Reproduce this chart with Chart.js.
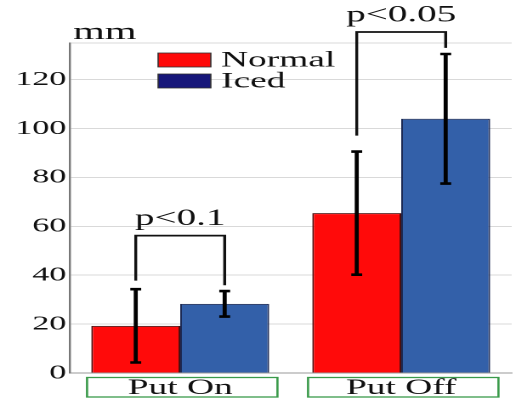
<!DOCTYPE html>
<html>
<head>
<meta charset="utf-8">
<script src="https://cdn.jsdelivr.net/npm/chart.js@4"></script>
<style>
  html, body { margin: 0; padding: 0; background: #fff; overflow: hidden; }
  /* the reference figure is stretched sideways, so the whole chart is too */
  #wrap { width: 302px; height: 400px; transform: scaleX(1.7); transform-origin: 0 0; }
</style>
</head>
<body>
<div id="wrap"><canvas id="chart"></canvas></div>
<script>
(function() {
    'use strict';

    // --- Data ---
    const categories = ['Put On', 'Put Off'];
    const seriesNames = ['Normal', 'Iced'];
    const normalMeans = [19.3, 65.4];
    const icedMeans = [28.3, 104.0];
    const normalErr = [15.0, 25.2];
    const icedErr = [5.2, 26.5];
    const yTicks = [0, 20, 40, 60, 80, 100, 120];
    const yMax = 135;

    // significance brackets: label, top of bracket, left leg end, right leg end
    const pLabels = ['p<0.1', 'p<0.05'];
    const bracketTops = [56.2, 139.5];
    const bracketLeftEnds = [37.8, 97.1];
    const bracketRightEnds = [35.9, 133.0];

    // --- Styles ---
    const serif = "'Liberation Serif', 'Times New Roman', serif";
    const redFill = '#ff0a0a';
    const blueFill = '#3360a9';
    const navyLegend = '#17177a';
    const inkColor = '#111';

    const errorBarsPlugin = {
        id: 'errorBars',
        afterDatasetsDraw(chart) {
            const ctx = chart.ctx;
            const ys = chart.scales.y;
            const errs = [normalErr, icedErr];
            const means = [normalMeans, icedMeans];
            ctx.save();
            ctx.strokeStyle = '#000';
            [0, 1].forEach(d => {
                chart.getDatasetMeta(d).data.forEach((bar, i) => {
                    const yHi = ys.getPixelForValue(means[d][i] + errs[d][i]);
                    const yLo = ys.getPixelForValue(means[d][i] - errs[d][i]);
                    ctx.lineWidth = 2.4;
                    ctx.beginPath();
                    ctx.moveTo(bar.x, yHi);
                    ctx.lineTo(bar.x, yLo);
                    ctx.stroke();
                    ctx.lineWidth = 2.6;
                    ctx.beginPath();
                    ctx.moveTo(bar.x - 3.2, yHi); ctx.lineTo(bar.x + 3.2, yHi);
                    ctx.moveTo(bar.x - 3.2, yLo); ctx.lineTo(bar.x + 3.2, yLo);
                    ctx.stroke();
                });
            });
            ctx.restore();
        },
        afterDraw(chart) {
            const ctx = chart.ctx;
            const xs = chart.scales.x;
            const ys = chart.scales.y;
            ctx.save();

            // brackets + p values
            ctx.strokeStyle = '#111';
            ctx.fillStyle = inkColor;
            ctx.font = '23px ' + serif;
            ctx.textAlign = 'center';
            ctx.textBaseline = 'alphabetic';
            categories.forEach((c, i) => {
                const xl = chart.getDatasetMeta(0).data[i].x;
                const xr = chart.getDatasetMeta(1).data[i].x;
                const yt = ys.getPixelForValue(bracketTops[i]);
                ctx.lineWidth = 1.7;
                ctx.beginPath();
                ctx.moveTo(xl, ys.getPixelForValue(bracketLeftEnds[i]));
                ctx.lineTo(xl, yt);
                ctx.lineTo(xr, yt);
                ctx.lineTo(xr, ys.getPixelForValue(bracketRightEnds[i]));
                ctx.stroke();
                ctx.fillText(pLabels[i], (xl + xr) / 2, yt - 10.5);
            });

            // green boxes around category labels
            ctx.strokeStyle = '#3a9a4a';
            ctx.lineWidth = 1.3;
            categories.forEach((c, i) => {
                const cx = xs.getPixelForValue(i) + 1.2;
                ctx.strokeRect(cx - 56, 377.5, 112, 19.5);
            });

            // unit label
            ctx.textAlign = 'left';
            ctx.font = '24px ' + serif;
            ctx.fillText('mm', 43, 39);

            // legend
            const legendFills = [redFill, navyLegend];
            ctx.font = '22px ' + serif;
            ctx.textBaseline = 'middle';
            seriesNames.forEach((name, i) => {
                const y0 = 53 + i * 21;
                ctx.fillStyle = legendFills[i];
                ctx.fillRect(93, y0, 31, 14);
                ctx.strokeStyle = '#333';
                ctx.lineWidth = 0.8;
                ctx.strokeRect(93, y0, 31, 14);
                ctx.fillStyle = inkColor;
                ctx.fillText(name, 130, y0 + 7.5);
            });
            ctx.restore();
        }
    };

    new Chart(document.getElementById('chart'), {
        type: 'bar',
        data: {
            labels: categories,
            datasets: [
                { label: seriesNames[0], data: normalMeans, backgroundColor: redFill,
                  borderColor: '#4a1010', borderWidth: 1 },
                { label: seriesNames[1], data: icedMeans, backgroundColor: blueFill,
                  borderColor: '#1c2a55', borderWidth: 1 }
            ]
        },
        options: {
            responsive: true,
            maintainAspectRatio: false,
            animation: false,
            devicePixelRatio: 2,
            layout: { padding: { top: 43, right: 1, left: 0, bottom: 0 } },
            datasets: { bar: { categoryPercentage: 0.805, barPercentage: 1.0 } },
            plugins: { legend: { display: false }, tooltip: { enabled: false } },
            scales: {
                x: {
                    offset: true,
                    grid: { display: false },
                    border: { color: '#999', width: 1 },
                    ticks: { color: inkColor, padding: -6, font: { family: serif, size: 22 } },
                    afterFit(scale) { scale.height = 27; }
                },
                y: {
                    min: 0,
                    max: yMax,
                    afterBuildTicks(scale) {
                        scale.ticks = yTicks.concat([yMax]).map(v => ({ value: v }));
                    },
                    grid: {
                        drawTicks: false,
                        color: ctx => (ctx.tick && ctx.tick.value === 0) ? '#999' : '#d9d9d9',
                        lineWidth: 1
                    },
                    border: { color: '#777', width: 1.2 },
                    ticks: {
                        color: inkColor,
                        padding: 2,
                        font: { family: serif, size: 20 },
                        callback: v => (v === yMax ? '' : v)
                    },
                    afterFit(scale) { scale.width = 41; }
                }
            }
        },
        plugins: [errorBarsPlugin]
    });
})();
</script>
</body>
</html>
